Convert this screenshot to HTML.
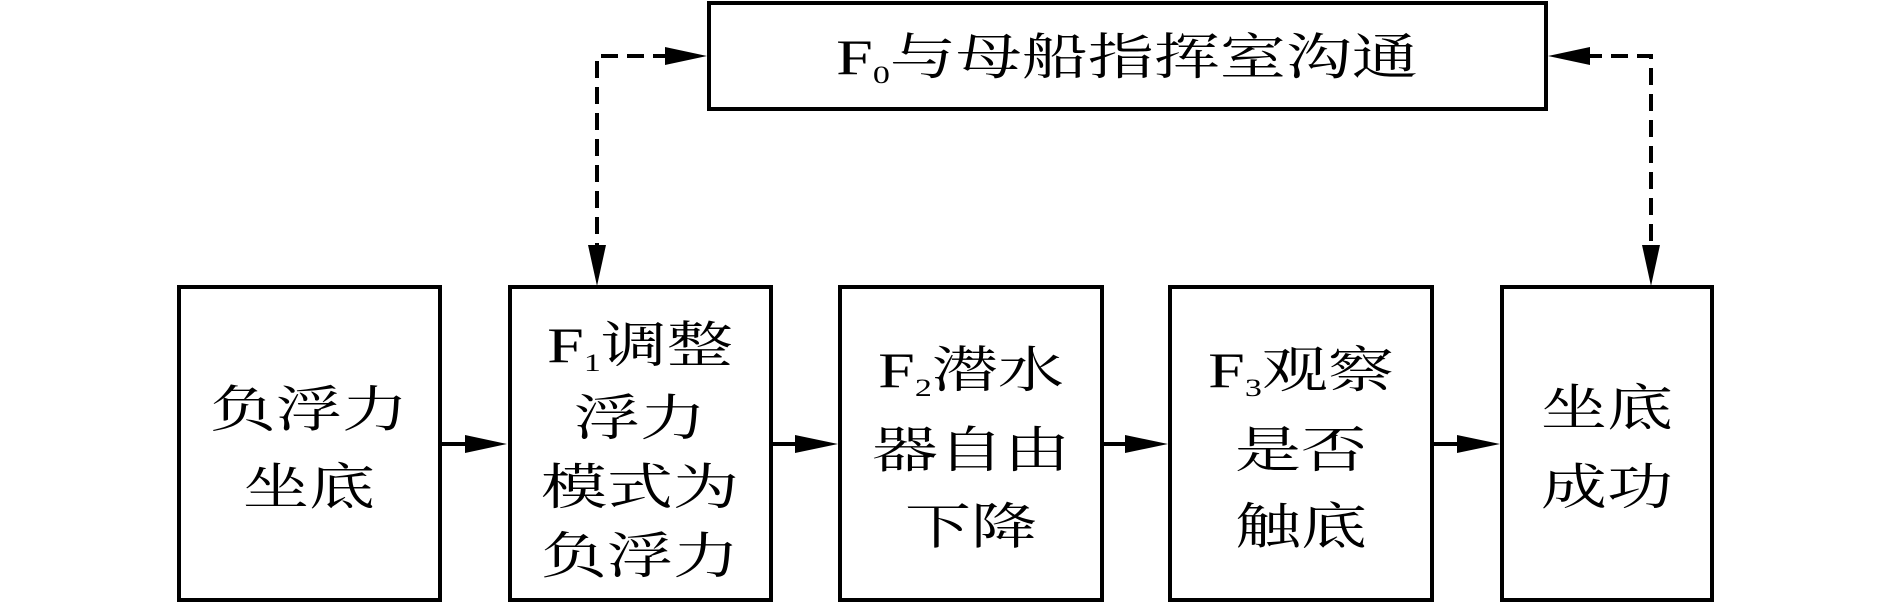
<!DOCTYPE html>
<html><head><meta charset="utf-8"><style>
html,body{margin:0;padding:0;background:#fff;overflow:hidden;}
svg{display:block}
text{font-family:"Liberation Serif","Noto Serif CJK SC",serif;fill:#000;}
</style></head><body>
<svg width="1889" height="602" viewBox="0 0 1889 602" xmlns="http://www.w3.org/2000/svg">
<g fill="none" stroke="#000" stroke-width="4">
<rect x="709" y="3" width="837" height="106"/>
<rect x="179" y="287" width="261" height="313"/>
<rect x="510" y="287" width="261" height="313"/>
<rect x="840" y="287" width="262" height="313"/>
<rect x="1170" y="287" width="262" height="313"/>
<rect x="1502" y="287" width="210" height="313"/>
</g>
<g stroke="#000" stroke-width="4">
<line x1="440" y1="444" x2="470" y2="444"/>
<line x1="771" y1="444" x2="800" y2="444"/>
<line x1="1102" y1="444" x2="1130" y2="444"/>
<line x1="1432" y1="444" x2="1462" y2="444"/>
</g>
<g fill="#000">
<polygon points="465,435 507,444 465,453"/>
<polygon points="795,435 838,444 795,453"/>
<polygon points="1125,435 1168,444 1125,453"/>
<polygon points="1457,435 1500,444 1457,453"/>
<polygon points="665,47 707,56 665,65"/>
<polygon points="1590,47 1548,56 1590,65"/>
<polygon points="588,245 597,286 606,245"/>
<polygon points="1642,245 1651,286 1660,245"/>
</g>
<g fill="none" stroke="#000" stroke-width="4" stroke-dasharray="17,9">
<polyline points="670,56 597,56 597,250"/>
<polyline points="1585,56 1651,56 1651,250"/>
</g>
<g transform="scale(1,0.75)" font-size="66" text-anchor="middle">
<text x="1127" y="99">F<tspan font-size="34" dy="12">0</tspan><tspan dy="-12">与母船指挥室沟通</tspan></text>
<text x="309" y="569">负浮力</text>
<text x="309" y="672">坐底</text>
<text x="640" y="483">F<tspan font-size="34" dy="12">1</tspan><tspan dy="-12">调整</tspan></text>
<text x="640" y="580">浮力</text>
<text x="640" y="672">模式为</text>
<text x="640" y="764">负浮力</text>
<text x="971" y="516">F<tspan font-size="34" dy="12">2</tspan><tspan dy="-12">潜水</tspan></text>
<text x="971" y="623">器自由</text>
<text x="971" y="725">下降</text>
<text x="1301" y="516">F<tspan font-size="34" dy="12">3</tspan><tspan dy="-12">观察</tspan></text>
<text x="1301" y="623">是否</text>
<text x="1301" y="725">触底</text>
<text x="1607" y="567">坐底</text>
<text x="1607" y="672">成功</text>
</g>
</svg>
</body></html>
